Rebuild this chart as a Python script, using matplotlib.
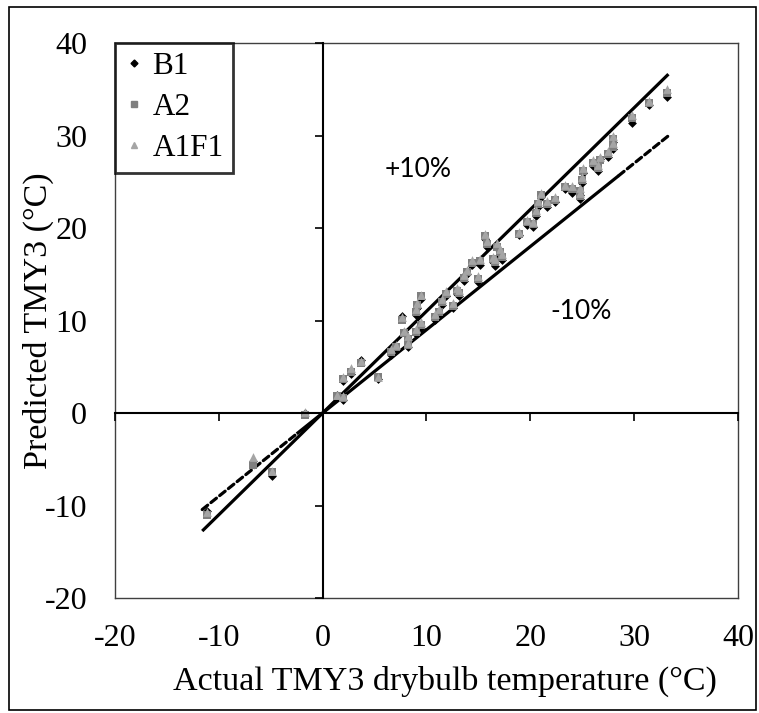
import matplotlib
matplotlib.use("Agg")
import matplotlib.pyplot as plt
from matplotlib.patches import Rectangle
from matplotlib.lines import Line2D

plt.rcParams["font.family"] = ["Liberation Serif", "DejaVu Serif"]

# ---------------- data ----------------
actual = [-11.1, -6.7, -4.9, -1.7, 1.4, 2.0, 2.0, 2.7, 3.7, 5.3,
          6.6, 7.1, 7.6, 7.8, 8.2, 8.2, 9.0, 9.0, 9.1, 9.5,
          9.5, 10.8, 11.2, 11.5, 11.9, 12.6, 12.9, 13.1, 13.6, 13.9,
          14.4, 15.0, 15.2, 15.6, 15.8, 16.4, 16.6, 16.8, 17.1, 17.3,
          18.9, 19.7, 20.3, 20.5, 20.7, 21.0, 21.6, 22.4, 23.3, 24.0,
          24.8, 24.8, 25.0, 25.1, 26.0, 26.5, 26.7, 27.5, 28.0, 28.0,
          29.8, 31.4, 33.2]
b1 = [-10.6, -5.2, -6.8, 0.0, 2.0, 1.4, 3.5, 4.2, 5.7, 3.7,
      6.3, 6.9, 10.5, 8.8, 7.1, 7.8, 8.5, 10.6, 11.4, 12.3,
      9.2, 10.1, 10.6, 11.7, 12.7, 11.3, 12.9, 12.7, 14.3, 15.0,
      16.0, 14.2, 16.0, 18.8, 18.0, 16.3, 15.9, 17.8, 17.0, 16.5,
      19.2, 20.3, 20.1, 21.3, 22.3, 23.3, 22.3, 22.8, 24.2, 23.8,
      23.6, 23.1, 24.9, 25.9, 26.7, 26.2, 27.5, 27.7, 28.5, 29.3,
      31.4, 33.3, 34.2]
a2 = [-11.0, -5.6, -6.4, -0.2, 1.8, 1.6, 3.7, 4.4, 5.4, 3.9,
      6.6, 7.1, 10.1, 8.6, 7.4, 8.0, 8.8, 10.9, 11.7, 12.6,
      9.5, 10.4, 10.9, 12.0, 12.9, 11.6, 13.2, 13.0, 14.6, 15.2,
      16.2, 14.5, 16.4, 19.1, 18.3, 16.6, 16.3, 18.0, 17.4, 16.9,
      19.4, 20.6, 20.4, 21.6, 22.6, 23.6, 22.6, 23.0, 24.4, 24.2,
      24.0, 23.5, 25.2, 26.2, 27.0, 26.5, 27.4, 28.0, 28.8, 29.6,
      31.9, 33.5, 34.6]
a1f1 = [-10.7, -4.8, -6.3, 0.1, 2.0, 1.8, 3.9, 4.9, 5.6, 3.9,
        6.9, 7.4, 10.4, 8.9, 7.6, 8.3, 9.1, 11.2, 11.9, 12.8,
        9.8, 10.7, 11.2, 12.3, 13.2, 11.9, 13.5, 13.3, 14.9, 15.5,
        16.5, 14.8, 16.7, 19.3, 18.6, 16.9, 16.6, 18.4, 17.7, 17.2,
        19.6, 20.9, 20.7, 21.9, 22.9, 23.8, 22.9, 23.3, 24.7, 24.5,
        24.3, 23.8, 25.5, 26.5, 27.3, 26.8, 27.7, 28.3, 29.2, 29.9,
        32.2, 33.7, 35.0]

series_names = ["B1", "A2", "A1F1"]

# +10% / -10% reference lines
plus10_x = [-11.6, 33.3]
plus10_y = [-12.76, 36.63]
minus10_solid_x = [-2.5, 28.5]
minus10_solid_y = [-2.25, 25.65]
minus10_dash_lo_x = [-11.6, -2.5]
minus10_dash_lo_y = [-10.44, -2.25]
minus10_dash_hi_x = [28.5, 33.3]
minus10_dash_hi_y = [25.65, 29.97]

xticks = [-20, -10, 0, 10, 20, 30, 40]
yticks = [-20, -10, 0, 10, 20, 30, 40]

# ---------------- figure ----------------
W, H = 759, 713
fig = plt.figure(figsize=(W / 100, H / 100), dpi=100)

def box(l, t, r, b):
    return [l / W, 1 - b / H, (r - l) / W, (b - t) / H]

serif = "Liberation Serif"
fs_tick = 23
fs_label = 24.5
fs_leg = 22.5

ax = fig.add_axes(box(115, 43, 738, 598))
ax.set_xlim(-20, 40)
ax.set_ylim(-20, 40)
ax.set_xticks(xticks)
ax.set_yticks(yticks)
ax.set_xticklabels([str(v) for v in xticks], fontfamily=serif, fontsize=fs_tick)
ax.set_yticklabels([str(v) for v in yticks], fontfamily=serif, fontsize=fs_tick)
ax.tick_params(axis="y", length=0, pad=20)
ax.tick_params(axis="x", length=0, pad=19)
for s in ax.spines.values():
    s.set_color("#404040")
    s.set_linewidth(1.0)

# zero axes with tick marks (overlay)
ax2 = fig.add_axes(box(115, 43, 738, 598), sharex=ax, sharey=ax)
ax2.patch.set_visible(False)
ax2.spines["left"].set_position(("data", 0))
ax2.spines["bottom"].set_position(("data", 0))
ax2.spines["right"].set_visible(False)
ax2.spines["top"].set_visible(False)
for k in ("left", "bottom"):
    ax2.spines[k].set_linewidth(1.5)
    ax2.spines[k].set_color("black")
ax2.tick_params(direction="out", length=6, width=1.2, labelleft=False,
                labelbottom=False, color="black")
ax2.set_zorder(1)

# lines
lw = 2.3
ax.plot(plus10_x, plus10_y, color="black", lw=lw, zorder=4, solid_capstyle="butt")
ax.plot(minus10_solid_x, minus10_solid_y, color="black", lw=lw, zorder=4, solid_capstyle="butt")
for xs, ys in ((minus10_dash_lo_x, minus10_dash_lo_y), (minus10_dash_hi_x, minus10_dash_hi_y)):
    ax.plot(xs, ys, color="black", lw=lw, zorder=4, linestyle=(0, (2.2, 1.3)),
            dash_capstyle="round")

# markers
ax.scatter(actual, b1, marker="D", s=20, color="black", zorder=5, linewidths=0)
ax.scatter(actual, a2, marker="s", s=30, color="#7f7f7f", zorder=6, linewidths=0)
ax.scatter(actual, a1f1, marker="^", s=40, color="#a5a5a5", zorder=7, linewidths=0)

# annotations
ax.text(9.2, 26.3, "+10%", fontfamily="Lato", fontsize=19, ha="center", va="center", zorder=8)
ax.text(24.9, 11.0, "-10%", fontfamily="Lato", fontsize=19, ha="center", va="center", zorder=8)

# legend
handles = [
    Line2D([], [], marker="D", linestyle="none", color="black", markersize=3.5),
    Line2D([], [], marker="s", linestyle="none", color="#7f7f7f", markersize=4.5),
    Line2D([], [], marker="^", linestyle="none", color="#a5a5a5", markersize=5),
]
leg = ax.legend(handles, series_names, loc="upper left", bbox_to_anchor=(0, 1),
                borderaxespad=0, frameon=True, fancybox=False,
                fontsize=fs_leg, handlelength=0.6,
                handletextpad=0.3, labelspacing=0.38, borderpad=0.3)
for t in leg.get_texts():
    t.set_fontfamily(serif)
    t.set_fontsize(fs_leg)
leg.get_frame().set_edgecolor("black")
leg.get_frame().set_linewidth(2.0)
leg.set_zorder(10)

# axis labels
ax.set_xlabel("Actual TMY3 drybulb temperature (°C)", fontfamily=serif, fontsize=fs_label)
ax.xaxis.set_label_coords((445 - 115) / 623, (598 - 666) / 555)
ax.set_ylabel("Predicted TMY3 (°C)", fontfamily=serif, fontsize=fs_label)
ax.yaxis.set_label_coords((54 - 115) / 623, 0.5)

# outer frame
fig.patches.append(Rectangle((9 / W, 1 - 710 / H), (756 - 9) / W, (710 - 7) / H,
                             transform=fig.transFigure, fill=False,
                             edgecolor="black", linewidth=1.2))

fig.savefig("out.png", dpi=100)
